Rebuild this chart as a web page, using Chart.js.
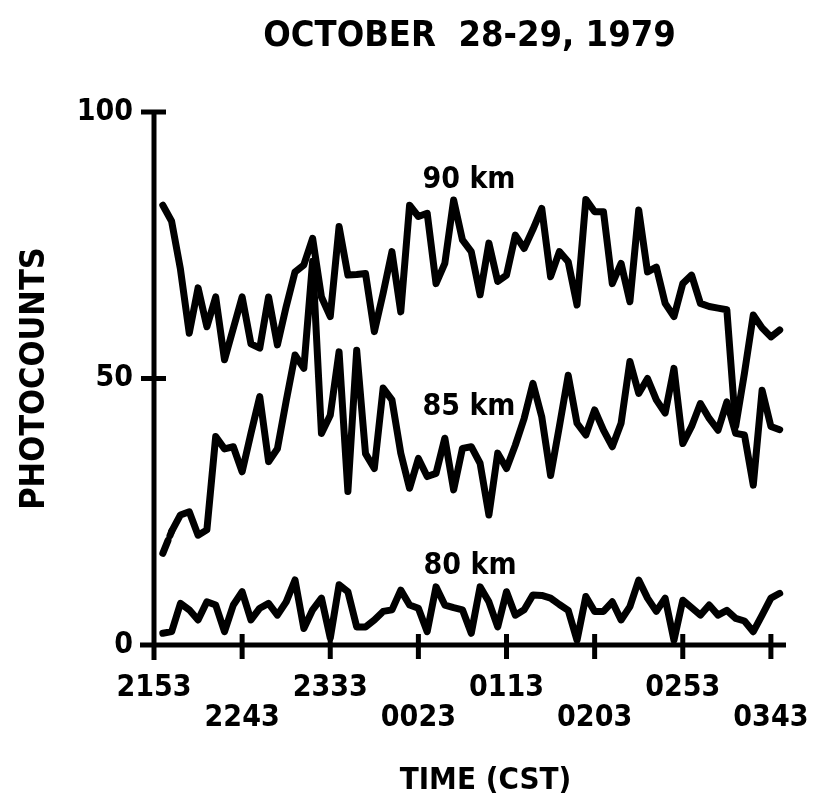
<!DOCTYPE html>
<html>
<head>
<meta charset="utf-8">
<script src="https://cdn.jsdelivr.net/npm/chart.js@4.4.1/dist/chart.umd.min.js"></script>
<style>
  html, body { margin: 0; padding: 0; background: #fff; }
  canvas { display: block; }
</style>
</head>
<body>
<canvas id="chart" width="818" height="807"></canvas>
<script>
// Photocount records at three altitudes, one sample every 5 min.
const FONT = "'DejaVu Sans Condensed', 'DejaVu Sans', sans-serif";
const INK = '#000';

const chartTitle = 'OCTOBER  28-29, 1979';
const timeAxisTitle = 'TIME (CST)';

// minutes after 2153 CST
const sampleMinutes = [
  5, 10, 15, 20, 25, 30, 35, 40, 45, 50, 55, 60, 65, 70, 75, 80, 85, 90,
  95, 100, 105, 110, 115, 120, 125, 130, 135, 140, 145, 150, 155, 160, 165, 170,
  175, 180, 185, 190, 195, 200, 205, 210, 215, 220, 225, 230, 235, 240, 245, 250,
  255, 260, 265, 270, 275, 280, 285, 290, 295, 300, 305, 310, 315, 320, 325, 330,
  335, 340, 345, 350, 355
];

const counts90km = [
  82.5, 79.5, 70.5, 58.5, 67, 59.7, 65.3, 53.5, 59.4, 65.3, 56.5, 55.7, 65.3, 56.3, 63.5, 70, 71.3, 76.3,
  65.3, 61.6, 78.5, 69.4, 69.5, 69.7, 58.8, 66, 73.8, 62.5, 82.5, 80.4, 81, 67.8, 71.6, 83.5,
  76, 73.8, 65.7, 75.4, 68.2, 69.4, 76.9, 74.4, 78, 81.9, 69.1, 73.8, 71.9, 63.8, 83.6, 81.3,
  81.3, 67.8, 71.6, 64.4, 81.6, 70, 70.9, 64.1, 61.6, 67.8, 69.4, 64.1, 63.5, 63.2, 62.9, 41,
  51, 61.9, 59.5, 57.8, 59.1
];

const counts85km = [
  17.2, 21.3, 24.4, 25, 20.6, 21.6, 39.1, 36.8, 37.2, 32.5, 39.7, 46.6, 34.4, 36.8, 45.8, 54.4, 51.9, 72,
  39.7, 43.1, 55, 28.8, 55.3, 35.9, 33.1, 48.2, 46, 36, 29.4, 35, 31.6, 32.2, 38.8, 29.1,
  36.9, 37.2, 34.1, 24.4, 36, 33.1, 37.5, 42.5, 49.1, 42.8, 31.8, 41, 50.6, 41.6, 39.4, 44.1,
  40.3, 37.2, 41.6, 53.2, 47.2, 50, 46, 43.5, 51.9, 37.8, 41, 45.3, 42.5, 40.3, 45.6, 39.7,
  39.4, 30, 47.8, 41, 40.4
];

const counts80km = [
  2.2, 2.5, 7.8, 6.6, 4.7, 8.1, 7.5, 2.5, 7.5, 10, 4.7, 6.9, 7.8, 5.6, 8.1, 12.2, 3.1, 6.6,
  8.8, 1.3, 11.3, 10, 3.4, 3.4, 4.7, 6.3, 6.6, 10.3, 7.5, 6.9, 2.5, 10.9, 7.5, 7,
  6.6, 2.2, 10.9, 8.1, 3.4, 10, 5.6, 6.6, 9.4, 9.3, 8.8, 7.6, 6.5, 0.9, 9.1, 6.3,
  6.3, 8.1, 4.7, 7.2, 12.2, 8.8, 6.3, 8.8, 0.9, 8.4, 7, 5.6, 7.5, 5.6, 6.5, 5,
  4.5, 2.5, 5.6, 8.8, 9.7
];

const tickMinutes = [0, 50, 100, 150, 200, 250, 300, 350];
const tickLabels = ['2153', '2243', '2333', '0023', '0113', '0203', '0253', '0343'];
const countTicks = [0, 50, 100];

const toPoints = (counts) => counts.map((c, i) => ({ x: sampleMinutes[i], y: c }));

function trace(label, counts, labelAt, extra) {
  return Object.assign({
    label,
    data: toPoints(counts),
    labelAt, // [minutes, counts] where the altitude caption sits
    borderColor: INK,
    borderWidth: 7,
    borderJoinStyle: 'round',
    borderCapStyle: 'round',
    pointRadius: 0,
    tension: 0,
  }, extra || {});
}

// Axis lines with ticks that cross the axis on both sides.
const crossAxes = {
  id: 'crossAxes',
  beforeDatasetsDraw(chart) {
    const { ctx, scales: { x, y } } = chart;
    const x0 = x.getPixelForValue(0);
    const y0 = y.getPixelForValue(0);
    ctx.save();
    ctx.strokeStyle = INK;
    ctx.lineWidth = 5;
    ctx.beginPath();
    ctx.moveTo(x0, y.getPixelForValue(100) - 2);
    ctx.lineTo(x0, y0 + 15);
    ctx.moveTo(x0 - 14, y0);
    ctx.lineTo(x.right + 1, y0);
    countTicks.forEach((v) => {
      const py = y.getPixelForValue(v);
      ctx.moveTo(x0 - 13, py);
      ctx.lineTo(x0 + 12, py);
    });
    tickMinutes.forEach((m) => {
      const px = x.getPixelForValue(m);
      ctx.moveTo(px, y0 - 11);
      ctx.lineTo(px, y0 + 14);
    });
    ctx.stroke();
    ctx.restore();
  },
};

// Heading, time-axis title and the altitude captions beside each trace.
const captions = {
  id: 'captions',
  afterDatasetsDraw(chart) {
    const { ctx, chartArea, scales: { x, y } } = chart;
    const midX = (chartArea.left + chartArea.right) / 2;
    ctx.save();
    ctx.fillStyle = INK;
    ctx.textAlign = 'center';
    ctx.textBaseline = 'middle';
    ctx.font = `bold 36px ${FONT}`;
    ctx.fillText(chartTitle, midX, 37);
    ctx.font = `bold 31px ${FONT}`;
    ctx.fillText(timeAxisTitle, midX + 16, 781);
    ctx.font = `bold 30px ${FONT}`;
    chart.data.datasets.forEach((ds) => {
      const [m, v] = ds.labelAt;
      ctx.fillText(ds.label, x.getPixelForValue(m), y.getPixelForValue(v));
    });
    ctx.restore();
  },
};

const tickFont = { family: FONT, size: 30, weight: 'bold', lineHeight: 1 };

new Chart(document.getElementById('chart'), {
  type: 'line',
  data: {
    datasets: [
      trace('90 km', counts90km, [178.7, 87.2]),
      trace('85 km', counts85km, [178.7, 44.6], {
        // the first stretch of this trace is broken in the record
        segment: { borderDash: (ctx) => (ctx.p0DataIndex === 0 ? [14, 5] : undefined) },
      }),
      trace('80 km', counts80km, [179.3, 14.8]),
    ],
  },
  options: {
    responsive: false,
    animation: false,
    layout: { padding: { top: 112, right: 33, left: 0, bottom: 0 } },
    plugins: {
      legend: { display: false },
      tooltip: { enabled: false },
    },
    scales: {
      x: {
        type: 'linear',
        min: 0,
        max: 358,
        grid: { display: false, drawTicks: false },
        border: { display: false },
        afterBuildTicks: (s) => { s.ticks = tickMinutes.map((v) => ({ value: v })); },
        afterFit: (s) => {
          s.height = 162;
          // labels fit inside the canvas already; keep the plot edge fixed
          s.paddingLeft = 0;
          s.paddingRight = 0;
        },
        ticks: {
          color: INK,
          padding: 28,
          maxRotation: 0,
          minRotation: 0,
          autoSkip: false,
          font: tickFont,
          // alternate rows so neighbouring clock labels don't collide
          callback: (v) => {
            const i = tickMinutes.indexOf(v);
            return i % 2 === 0 ? [tickLabels[i], ''] : ['', tickLabels[i]];
          },
        },
      },
      y: {
        min: 0,
        max: 100,
        grid: { display: false, drawTicks: false },
        border: { display: false },
        afterBuildTicks: (s) => { s.ticks = countTicks.map((v) => ({ value: v })); },
        afterFit: (s) => { s.width = 154; },
        ticks: { color: INK, padding: 21, font: tickFont },
        title: {
          display: true,
          text: 'PHOTOCOUNTS',
          color: INK,
          font: { family: FONT, size: 34, weight: 'bold' },
          padding: { top: 15, bottom: 0 },
        },
      },
    },
  },
  plugins: [crossAxes, captions],
});
</script>
</body>
</html>
